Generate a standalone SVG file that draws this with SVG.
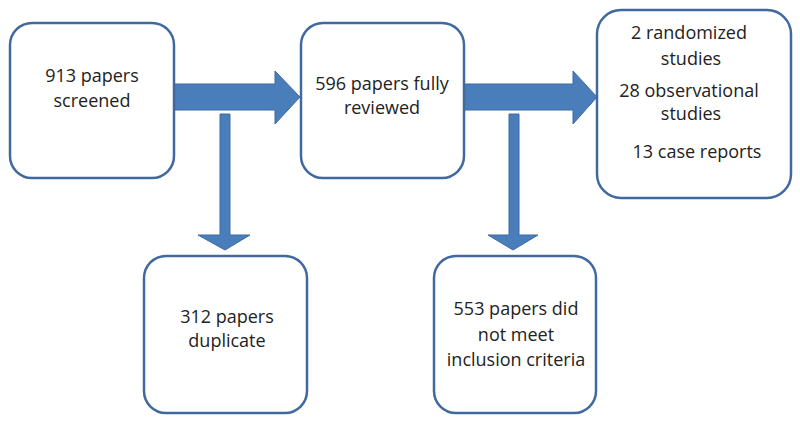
<svg xmlns="http://www.w3.org/2000/svg" width="800" height="423" viewBox="0 0 800 423">
<style>
.box{fill:#fff;stroke:#41699e;stroke-width:2.5}
.arr{fill:#4a7ebb;stroke:#3d6aa2;stroke-width:1}
text{font-family:"Open Sans","Liberation Sans",sans-serif;font-size:18px;fill:#222;text-anchor:middle}
</style>
<rect width="800" height="423" fill="#fff"/>
<g id="connectors">
<path class="arr" d="M174,84 H275 V71 L300,97 L275,124 V110 H174 Z"/>
<path class="arr" d="M464,84 H573 V71 L597,97 L573,124 V110 H464 Z"/>
<path class="arr" d="M220,114 H230 V235 H250 L225,250 L198,235 H220 Z"/>
<path class="arr" d="M509,114 H519 V235 H538 L513,250 L488,235 H509 Z"/>
</g>
<g id="n1"><rect class="box" x="10" y="23" width="164" height="155" rx="22"/>
<text x="92" y="82">913 papers</text><text x="92" y="107">screened</text></g>
<g id="n2"><rect class="box" x="301" y="23" width="163" height="155" rx="22"/>
<text x="382" y="90">596 papers fully</text><text x="382" y="114">reviewed</text></g>
<g id="n3"><rect class="box" x="597" y="10" width="194" height="188" rx="24"/>
<text x="689" y="39">2 randomized</text><text x="691" y="65">studies</text>
<text x="689" y="97">28 observational</text><text x="691" y="120">studies</text>
<text x="697" y="158">13 case reports</text></g>
<g id="n4"><rect class="box" x="144" y="256" width="163" height="157" rx="22"/>
<text x="227" y="323">312 papers</text><text x="227" y="347">duplicate</text></g>
<g id="n5"><rect class="box" x="434" y="256" width="162" height="157" rx="22"/>
<text x="516" y="315">553 papers did</text><text x="516" y="341">not meet</text><text x="516" y="366">inclusion criteria</text></g>
</svg>
